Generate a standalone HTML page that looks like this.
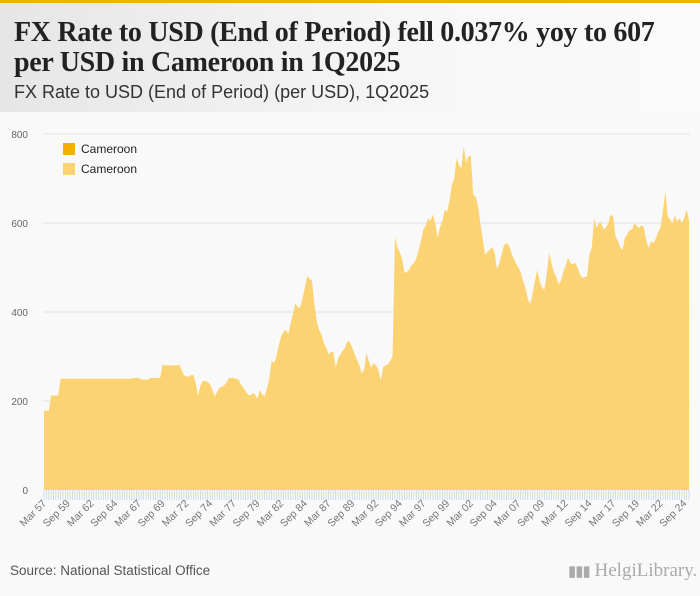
<!DOCTYPE html>
<html>
<head>
<meta charset="utf-8">
<style>
  html,body{margin:0;padding:0;}
  body{width:700px;height:596px;overflow:hidden;background:#f9f9f9;position:relative;font-family:"Liberation Sans",sans-serif;}
  #topbar{position:absolute;left:0;top:0;width:700px;height:3px;background:#f5b000;}
  #header{position:absolute;left:0;top:3px;width:700px;height:109px;background:linear-gradient(to right,#e6e6e6,#f7f7f7 60%,#fafafa);}
  #title{position:absolute;left:14px;top:15px;margin:0;font-family:"Liberation Serif",serif;font-weight:bold;font-size:28px;line-height:30px;color:#222;letter-spacing:-0.3px;white-space:nowrap;}
  #subtitle{position:absolute;left:14px;top:79px;font-size:18px;color:#333;white-space:nowrap;}
  #source{position:absolute;left:10px;top:563px;font-size:13.5px;color:#555;}
  #logo{position:absolute;left:568px;top:560px;font-family:"Liberation Serif",serif;font-size:19px;color:#aaa;}
  svg{position:absolute;left:0;top:0;}
</style>
</head>
<body>
<div id="topbar"></div>
<div id="header">
  <h1 id="title">FX Rate to USD (End of Period) fell 0.037% yoy to 607<br>per USD in Cameroon in 1Q2025</h1>
  <div id="subtitle">FX Rate to USD (End of Period) (per USD), 1Q2025</div>
</div>
<svg id="chart" width="700" height="596"></svg>
<div id="source">Source: National Statistical Office</div>
<div id="logo"><span style="font-size:15px;letter-spacing:-1px">▮▮▮</span> HelgiLibrary.</div>
<script>
const startYear = 1957;
const values = [
178,178,178,212, 212,212,212,250,
250,250,250,250, 250,250,250,250, 250,250,250,250, 250,250,250,250, 250,250,250,250, 250,250,250,250, 250,250,250,250,
250,250,252,252, 252,248,248,248, 248,252,252,252, 252,252,282,280, 280,280,280,280, 280,282,270,258,
255,255,258,258, 240,212,235,245, 245,243,238,225, 210,220,230,232, 235,242,252,252, 252,250,248,238,
230,222,215,212, 218,215,205,225, 215,210,228,250, 290,285,300,325, 345,355,360,350, 375,395,420,410,
410,430,455,480, 475,470,420,380, 360,350,330,320, 305,310,310,275, 295,305,313,320, 335,332,320,305,
292,280,262,270, 309,290,275,285, 280,270,246,275, 280,282,290,300, 570,545,535,520, 488,490,495,505,
510,520,540,560, 585,595,610,605, 619,600,567,590, 605,630,625,650, 686,700,746,730, 723,772,735,750,
751,663,660,640, 600,565,529,535, 540,545,535,496, 510,530,550,555, 550,535,520,510, 500,490,470,455,
430,418,440,470, 494,470,455,450, 485,533,510,490, 480,462,470,490, 505,522,510,507, 511,500,485,477,
478,481,529,545, 611,589,600,600, 585,590,600,619, 615,570,560,545, 540,567,575,585, 585,600,593,589,
595,590,560,544, 559,555,565,580, 590,626,671,615, 608,600,617,604, 611,600,612,630,
607
];
const yTicks = [0,200,400,600,800];
const seriesNames = ["Cameroon","Cameroon"];
const months = ["Mar","Jun","Sep","Dec"];

const NS = "http://www.w3.org/2000/svg";
const svg = document.getElementById('chart');
const x0 = 44, x1 = 689, yBase = 490, yTop = 134, yMax = 800;
const n = values.length;
function xs(i){ return x0 + (x1 - x0) * i / (n - 1); }
function ys(v){ return yBase - (yBase - yTop) * v / yMax; }
function mk(tag, attrs){ const e = document.createElementNS(NS, tag); for (const k in attrs) e.setAttribute(k, attrs[k]); svg.appendChild(e); return e; }

yTicks.forEach(t => {
  if (t > 0) {
    const g = mk('line', {x1: 43, x2: 690, y1: ys(t), y2: ys(t), stroke: '#e2e2e2', 'stroke-width': 1});
    
    
  }
  const lb = mk('text', {x: 28, y: ys(t) + 4, 'text-anchor': 'end', 'font-size': 10, fill: '#666', 'font-family': 'Liberation Sans, sans-serif'});
  lb.textContent = t;
  
  
});

let d = 'M' + xs(0) + ',' + yBase;
values.forEach((v, i) => { d += ' L' + xs(i).toFixed(2) + ',' + ys(v).toFixed(2); });
d += ' L' + xs(n - 1) + ',' + yBase + ' Z';
const area = mk('path', {d: d, fill: '#fcd372'});



for (let i = 0; i < n; i++) {
  const tk = mk('line', {x1: xs(i), x2: xs(i), y1: yBase, y2: yBase + 10, stroke: '#c5d3ec', 'stroke-width': 0.8});
  
  
  if (i % 10 === 0) {
    const yr = startYear + Math.floor(i / 4);
    const lab = months[i % 4] + ' ' + String(yr % 100).padStart(2, '0');
    const tx = xs(i) + 3, ty = yBase + 14;
    const t = mk('text', {x: tx, y: ty, 'text-anchor': 'end', 'font-size': 10.5, fill: '#777', 'font-family': 'Liberation Sans, sans-serif', transform: 'rotate(-45 ' + tx + ' ' + ty + ')'});
    t.textContent = lab;
    
    
  }
}

const legendColors = ['#f7ae00', '#fcd372'];
seriesNames.forEach((s, k) => {
  const r = mk('rect', {x: 63, y: 143 + k * 20, width: 12, height: 12, fill: legendColors[k]});
  
  
  const t = mk('text', {x: 81, y: 153 + k * 20, 'font-size': 12, fill: '#222', 'font-family': 'Liberation Sans, sans-serif'});
  t.textContent = s;
  
  
});
</script>
</body>
</html>
